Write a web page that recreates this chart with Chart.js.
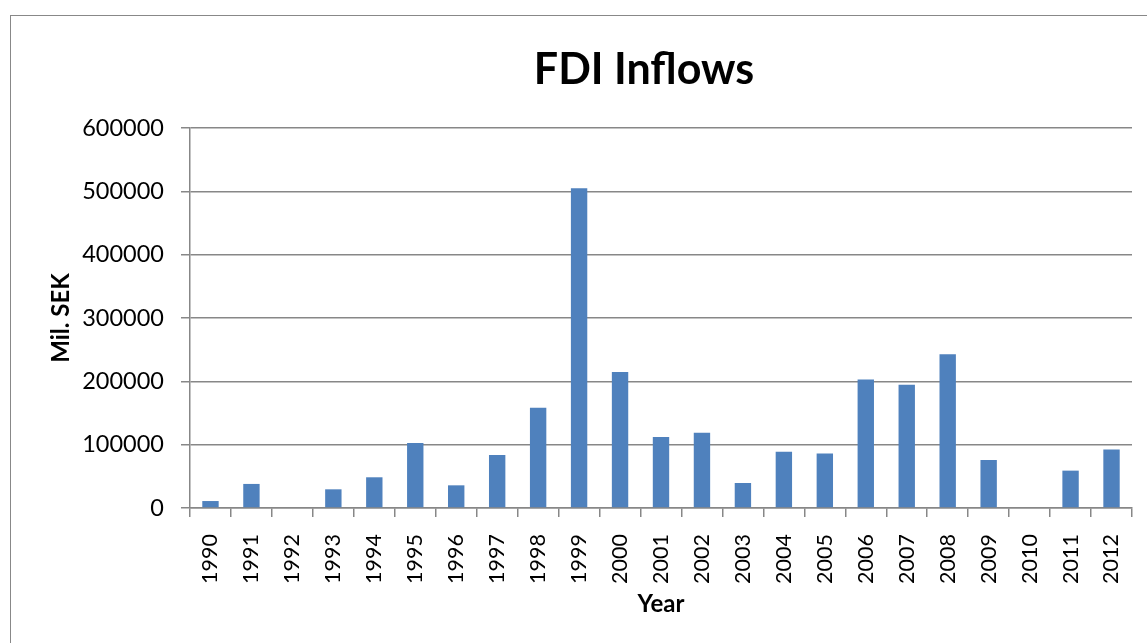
<!DOCTYPE html>
<html><head><meta charset="utf-8">
<script src="https://cdn.jsdelivr.net/npm/chart.js@4"></script>
<style>
html,body{margin:0;padding:0;background:#fff;overflow:hidden;width:1147px;height:643px;}
#box{position:absolute;left:10px;top:15px;width:1266px;height:640px;border:1px solid #888;}
canvas{display:block;}
</style></head><body>
<div id="box"><canvas id="c" width="1266" height="640"></canvas></div>
<script>
const years = ['1990','1991','1992','1993','1994','1995','1996','1997','1998','1999','2000','2001','2002','2003','2004','2005','2006','2007','2008','2009','2010','2011','2012'];
const fdiInflows = [11000,38000,0,29500,48500,102600,35800,83700,158400,504800,214700,112100,119000,39500,89000,85900,202700,194800,242700,75800,0,59000,92200];
const yMin = 0;
const yMax = 600000;
const yStep = 100000;
const chartTitle = 'FDI Inflows';
const yTitle = 'Mil. SEK';
const xTitle = 'Year';

const gridCol = '#878787';
new Chart(document.getElementById('c'), {
  type: 'bar',
  data: {
    labels: years,
    datasets: [{
      data: fdiInflows,
      backgroundColor: '#4F81BD',
      borderWidth: 0,
      categoryPercentage: 1,
      barPercentage: 0.4
    }]
  },
  options: {
    responsive: false,
    animation: false,
    layout: { padding: 0 },
    plugins: {
      legend: { display: false },
      tooltip: { enabled: false },
      title: {
        display: true,
        text: chartTitle,
        color: '#000',
        font: { family: 'Lato', size: 43, weight: 'bold' },
        padding: { top: 28, bottom: 32.4 }
      }
    },
    scales: {
      x: {
        offset: true,
        grid: { display: true, drawOnChartArea: false, drawTicks: true, tickLength: 9, color: gridCol, lineWidth: 1.5, offset: true },
        border: { color: gridCol, width: 1.5 },
        ticks: { color: '#000', font: { family: 'Lato', size: 21.5 }, minRotation: 90, maxRotation: 90, padding: 17, autoSkip: false },
        title: { display: true, text: xTitle, color: '#000', font: { family: 'Lato', size: 24, weight: 'bold' }, padding: { top: 0, bottom: 37.6 } },
        afterFit: (s) => { s.height = 148; }
      },
      y: {
        min: yMin,
        max: yMax,
        grid: { color: gridCol, lineWidth: 1.5, tickLength: 9 },
        border: { color: gridCol, width: 1.5 },
        ticks: { stepSize: yStep, color: '#000', font: { family: 'Lato', size: 23.5 }, padding: 17, callback: (v) => String(v) },
        title: { display: true, text: yTitle, color: '#000', font: { family: 'Lato', size: 24, weight: 'bold' }, padding: { top: 35.6, bottom: 0 } },
        afterFit: (s) => { s.width = 179; }
      },
      yRightSpace: {
        position: 'right',
        display: true,
        grid: { display: false, drawTicks: false },
        border: { display: false },
        ticks: { display: false },
        afterFit: (s) => { s.width = 145; }
      }
    }
  }
});
</script>
</body></html>
